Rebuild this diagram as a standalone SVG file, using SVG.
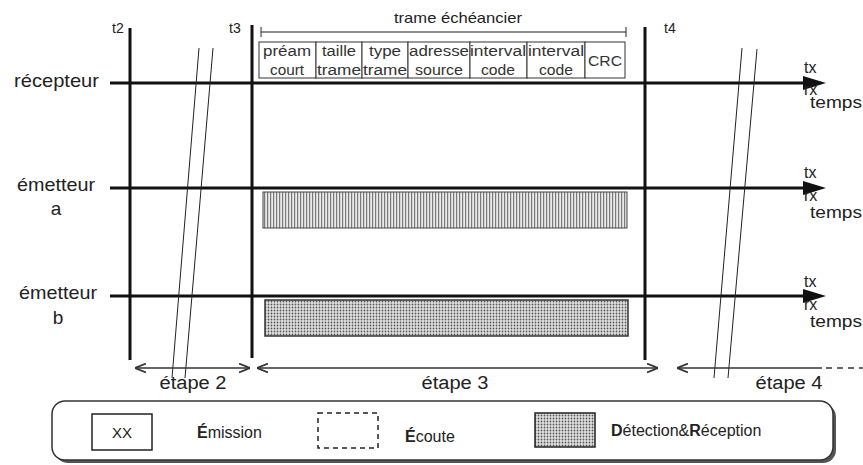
<svg xmlns="http://www.w3.org/2000/svg" width="863" height="465" viewBox="0 0 863 465">
<style>
text{font-family:"Liberation Sans",Arial,sans-serif;fill:#222}
.lbl{font-size:19px}
.fld{font-size:14px;text-anchor:middle;fill:#333}
.tl{font-size:14px}
.ax{font-size:16px}
.et{font-size:18px;text-anchor:middle}
.lg{font-size:16px}
.thick{stroke:#111;stroke-width:3;fill:none}
.thin{stroke:#222;stroke-width:1;fill:none}
.dim{stroke:#333;stroke-width:1.5;fill:none}
.cell{fill:#fff;stroke:#333;stroke-width:1}
.head{fill:#111}
</style>
<defs>
<pattern id="vh" width="3" height="4" patternUnits="userSpaceOnUse"><rect width="3" height="4" fill="#eaeaea"/><rect width="1.2" height="4" fill="#7a7a7a"/></pattern>
<pattern id="dots" width="3" height="3" patternUnits="userSpaceOnUse"><rect width="3" height="3" fill="#e2e2e2"/><circle cx="1.5" cy="1.5" r="0.9" fill="#555"/></pattern>
<marker id="chev" viewBox="0 0 10 10" refX="10" refY="5" markerWidth="11" markerHeight="11" markerUnits="userSpaceOnUse" orient="auto-start-reverse"><path d="M0,1 L10,5 L0,9" fill="none" stroke="#333" stroke-width="1.6"/></marker>
</defs>

<g id="connectors">
  <line class="thick" x1="110" y1="83" x2="806" y2="83"/>
  <polygon class="head" points="803,76 826,83 803,90"/>
  <line class="thick" x1="110" y1="188" x2="806" y2="188"/>
  <polygon class="head" points="803,181 826,188 803,195"/>
  <line class="thick" x1="110" y1="296" x2="806" y2="296"/>
  <polygon class="head" points="803,289 826,296 803,303"/>
  <line class="thick" x1="130" y1="28" x2="130" y2="360"/>
  <line class="thick" x1="252" y1="25" x2="252" y2="358"/>
  <line class="thick" x1="645" y1="27" x2="645" y2="360"/>
  <line class="thin" x1="199" y1="48" x2="172" y2="378"/>
  <line class="thin" x1="213" y1="48" x2="185" y2="378"/>
  <line class="thin" x1="742" y1="48" x2="714" y2="378"/>
  <line class="thin" x1="757" y1="49" x2="728" y2="378"/>
  <line class="dim" x1="135" y1="368" x2="250" y2="368" marker-start="url(#chev)" marker-end="url(#chev)"/>
  <line class="dim" x1="257" y1="368" x2="658" y2="368" marker-start="url(#chev)" marker-end="url(#chev)"/>
  <line class="dim" x1="677" y1="368" x2="822" y2="368" marker-start="url(#chev)"/>
  <line class="dim" x1="826" y1="368" x2="863" y2="368" stroke-dasharray="6,5"/>
</g>

<g id="recepteur">
  <text class="lbl" x="14" y="87" textLength="85" lengthAdjust="spacingAndGlyphs">récepteur</text>
  <text class="ax" x="804" y="73">tx</text>
  <text class="ax" x="804" y="95">rx</text>
  <text class="ax" x="810" y="108" textLength="52" lengthAdjust="spacingAndGlyphs">temps</text>
</g>

<g id="emetteur-a">
  <text class="lbl" x="17" y="191" textLength="78" lengthAdjust="spacingAndGlyphs">émetteur</text>
  <text class="lbl" x="56" y="215" text-anchor="middle">a</text>
  <text class="ax" x="804" y="178">tx</text>
  <text class="ax" x="804" y="201">rx</text>
  <text class="ax" x="810" y="218" textLength="52" lengthAdjust="spacingAndGlyphs">temps</text>
  <rect x="263" y="192" width="364" height="36" fill="url(#vh)" stroke="#444" stroke-width="1"/>
</g>

<g id="emetteur-b">
  <text class="lbl" x="19" y="299" textLength="78" lengthAdjust="spacingAndGlyphs">émetteur</text>
  <text class="lbl" x="58" y="324" text-anchor="middle">b</text>
  <text class="ax" x="804" y="287">tx</text>
  <text class="ax" x="804" y="310">rx</text>
  <text class="ax" x="810" y="327" textLength="52" lengthAdjust="spacingAndGlyphs">temps</text>
  <rect x="265" y="300" width="363" height="36" fill="url(#dots)" stroke="#333" stroke-width="1.5"/>
</g>

<g id="times">
  <text class="tl" x="112" y="33">t2</text>
  <text class="tl" x="229" y="33">t3</text>
  <text class="tl" x="664" y="33">t4</text>
</g>

<g id="trame">
  <text x="458" y="23" font-size="15" text-anchor="middle" textLength="128" lengthAdjust="spacingAndGlyphs">trame échéancier</text>
  <line class="thin" x1="261" y1="32" x2="626" y2="32" stroke-width="1.3"/>
  <line class="thin" x1="261" y1="27" x2="261" y2="37"/>
  <line class="thin" x1="626" y1="27" x2="626" y2="37"/>
  <rect class="cell" x="259" y="42" width="57" height="36"/>
  <rect class="cell" x="316" y="42" width="46" height="36"/>
  <rect class="cell" x="362" y="42" width="46" height="36"/>
  <rect class="cell" x="408" y="42" width="62" height="36"/>
  <rect class="cell" x="470" y="42" width="57" height="36"/>
  <rect class="cell" x="527" y="42" width="58" height="36"/>
  <rect class="cell" x="585" y="42" width="40" height="36"/>
  <text class="fld" x="287" y="56" textLength="48" lengthAdjust="spacingAndGlyphs">préam</text>
  <text class="fld" x="287" y="75" textLength="34" lengthAdjust="spacingAndGlyphs">court</text>
  <text class="fld" x="339" y="56" textLength="34" lengthAdjust="spacingAndGlyphs">taille</text>
  <text class="fld" x="339" y="75" textLength="44" lengthAdjust="spacingAndGlyphs">trame</text>
  <text class="fld" x="385" y="56" textLength="32" lengthAdjust="spacingAndGlyphs">type</text>
  <text class="fld" x="385" y="75" textLength="44" lengthAdjust="spacingAndGlyphs">trame</text>
  <text class="fld" x="439" y="56" textLength="60" lengthAdjust="spacingAndGlyphs">adresse</text>
  <text class="fld" x="439" y="75" textLength="48" lengthAdjust="spacingAndGlyphs">source</text>
  <text class="fld" x="498" y="56" textLength="56" lengthAdjust="spacingAndGlyphs">interval</text>
  <text class="fld" x="498" y="75" textLength="34" lengthAdjust="spacingAndGlyphs">code</text>
  <text class="fld" x="556" y="56" textLength="56" lengthAdjust="spacingAndGlyphs">interval</text>
  <text class="fld" x="556" y="75" textLength="34" lengthAdjust="spacingAndGlyphs">code</text>
  <text class="fld" x="605" y="66" textLength="34" lengthAdjust="spacingAndGlyphs">CRC</text>
</g>

<g id="etapes">
  <text class="et" x="193" y="389" textLength="67" lengthAdjust="spacingAndGlyphs">étape 2</text>
  <text class="et" x="455" y="389" textLength="67" lengthAdjust="spacingAndGlyphs">étape 3</text>
  <text class="et" x="789" y="389" textLength="67" lengthAdjust="spacingAndGlyphs">étape 4</text>
</g>

<g id="legend">
  <rect x="55" y="404" width="781" height="59" rx="13" fill="#555"/>
  <rect x="52" y="401" width="781" height="59" rx="13" fill="#fff" stroke="#333" stroke-width="1.5"/>
  <rect x="92" y="414" width="60" height="36" fill="#fff" stroke="#222" stroke-width="1.5"/>
  <text x="122" y="438" font-size="15" text-anchor="middle">XX</text>
  <text class="lg" x="197" y="438"><tspan font-weight="bold">É</tspan>mission</text>
  <rect x="318" y="413" width="60" height="35" fill="none" stroke="#222" stroke-width="1.5" stroke-dasharray="5,4"/>
  <text class="lg" x="405" y="442"><tspan font-weight="bold">É</tspan>coute</text>
  <rect x="535" y="413" width="60" height="34" fill="url(#dots)" stroke="#222" stroke-width="1.5"/>
  <text class="lg" x="611" y="436"><tspan font-weight="bold">D</tspan>étection&amp;<tspan font-weight="bold">R</tspan>éception</text>
</g>
</svg>
